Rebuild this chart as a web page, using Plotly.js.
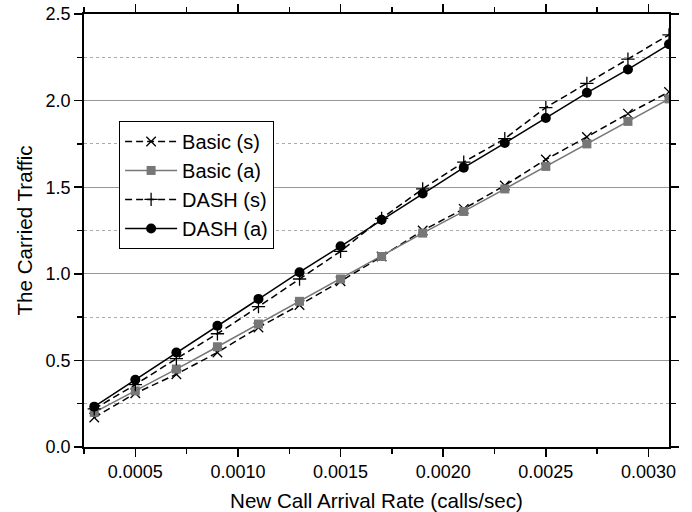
<!DOCTYPE html>
<html>
<head>
<meta charset="utf-8">
<script src="https://cdn.plot.ly/plotly-3.0.1.min.js"></script>
<style>html,body{margin:0;padding:0;background:#fff;}#chart{width:692px;height:512px;}</style>
</head>
<body>
<div id="chart"></div>
<script>
const arrivalRate = [0.0003,0.0005,0.0007,0.0009,0.0011,0.0013,0.0015,0.0017,0.0019,0.0021,0.0023,0.0025,0.0027,0.0029,0.0031];
const basicS = [0.17,0.31,0.42,0.546,0.69,0.82,0.957,1.10,1.25,1.375,1.51,1.66,1.79,1.925,2.05];
const basicA = [0.20,0.324,0.45,0.579,0.71,0.841,0.970,1.10,1.235,1.36,1.49,1.62,1.75,1.88,2.01];
const dashS  = [0.22,0.36,0.51,0.654,0.81,0.97,1.13,1.32,1.49,1.645,1.78,1.96,2.10,2.24,2.38];
const dashA  = [0.233,0.388,0.546,0.70,0.855,1.009,1.159,1.312,1.464,1.613,1.755,1.90,2.045,2.18,2.325];
const seriesNames = ['Basic (s)','Basic (a)','DASH (s)','DASH (a)'];
const xRange = [0.00025, 0.0031];
const yRange = [0, 2.5];

const FONT = 'Liberation Sans, Arial, sans-serif';
const gray = '#777777';
const dashPat = '7px,4px';

const traces = [
  {x: arrivalRate, y: basicS, name: seriesNames[0], mode: 'lines+markers',
   line: {color: '#000', width: 1.5, dash: dashPat},
   marker: {symbol: 'x-thin-open', size: 9.5, color: '#000', line: {color: '#000', width: 1.3}}},
  {x: arrivalRate, y: basicA, name: seriesNames[1], mode: 'lines+markers',
   line: {color: gray, width: 1.5},
   marker: {symbol: 'square', size: 9, color: gray}},
  {x: arrivalRate, y: dashS, name: seriesNames[2], mode: 'lines+markers',
   line: {color: '#000', width: 1.5, dash: dashPat},
   marker: {symbol: 'cross-thin-open', size: 9.5, color: '#000', line: {color: '#000', width: 1.3}}},
  {x: arrivalRate, y: dashA, name: seriesNames[3], mode: 'lines+markers',
   line: {color: '#000', width: 1.5},
   marker: {symbol: 'circle', size: 10, color: '#000'}}
];

const layout = {
  width: 692, height: 512,
  margin: {l: 84, r: 23, t: 14, b: 65},
  paper_bgcolor: '#fff', plot_bgcolor: '#fff',
  font: {family: FONT, size: 18, color: '#000'},
  showlegend: true,
  legend: {x: 0.06, y: 0.753, xanchor: 'left', yanchor: 'top',
    bordercolor: '#000', borderwidth: 1, bgcolor: '#fff',
    font: {family: FONT, size: 20, color: '#000'}, itemwidth: 52},
  xaxis: {
    range: xRange, tick0: 0, dtick: 0.0005, tickformat: '.4f',
    showgrid: false, zeroline: false,
    showline: true, linecolor: '#000', linewidth: 1.8, mirror: 'allticks',
    ticks: 'outside', ticklen: 8, tickwidth: 1.5, tickcolor: '#000',
    tickfont: {family: FONT, size: 18, color: '#000'},
    minor: {dtick: 0.00025, tick0: 0, ticks: 'outside', ticklen: 5, tickwidth: 1.5, tickcolor: '#000', showgrid: false},
    title: {text: 'New Call Arrival Rate (calls/sec)', font: {family: FONT, size: 20.6, color: '#000'}}
  },
  yaxis: {
    range: yRange, tick0: 0, dtick: 0.5, tickformat: '.1f',
    showgrid: true, gridcolor: '#999', gridwidth: 1, zeroline: false,
    showline: true, linecolor: '#000', linewidth: 1.8, mirror: 'allticks',
    ticks: 'outside', ticklen: 8, tickwidth: 1.5, tickcolor: '#000',
    tickfont: {family: FONT, size: 18, color: '#000'},
    minor: {dtick: 0.25, tick0: 0, ticks: 'outside', ticklen: 5, tickwidth: 1.5, tickcolor: '#000',
            showgrid: true, gridcolor: '#aaa', griddash: 'dot', gridwidth: 1},
    title: {text: 'The Carried Traffic', font: {family: FONT, size: 20.6, color: '#000'}}
  }
};

Plotly.newPlot('chart', traces, layout, {staticPlot: true, displayModeBar: false});
</script>
</body>
</html>
